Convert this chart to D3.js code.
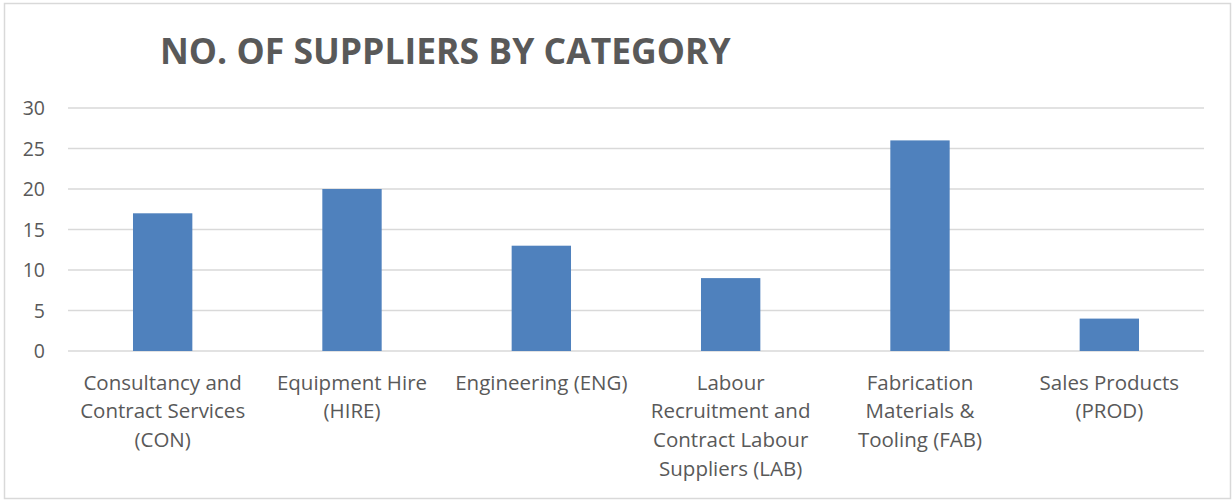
<!DOCTYPE html>
<html><head><meta charset="utf-8">
<script src="https://cdn.jsdelivr.net/npm/d3@7"></script>
<style>html,body{margin:0;padding:0;background:#fff;}svg{display:block;}</style>
</head><body>
<div id="chart"></div>
<script>
const title = "NO. OF SUPPLIERS BY CATEGORY";
const categories = [
  ["Consultancy and","Contract Services","(CON)"],
  ["Equipment Hire","(HIRE)"],
  ["Engineering (ENG)"],
  ["Labour","Recruitment and","Contract Labour","Suppliers (LAB)"],
  ["Fabrication","Materials &","Tooling (FAB)"],
  ["Sales Products","(PROD)"]
];
const values = [17, 20, 13, 9, 26, 4];
const yTicks = [0, 5, 10, 15, 20, 25, 30];

const W = 1232, H = 501;
const font = "'Open Sans', 'Liberation Sans', sans-serif";
const textColor = "#595959";
const svg = d3.select("#chart").append("svg").attr("width", W).attr("height", H);

svg.append("rect").attr("x", 4.5).attr("y", 3.5).attr("width", W - 6).attr("height", H - 6)
  .attr("fill", "#fff").attr("stroke", "#d9d9d9").attr("stroke-width", 1.5);

const pLeft = 68, pRight = 1204, pTop = 108, pBottom = 351;
const x = d3.scaleBand().domain(d3.range(categories.length)).range([pLeft, pRight]).padding(0);
const y = d3.scaleLinear().domain([0, 30]).range([pBottom, pTop]);

svg.append("g").selectAll("line").data(yTicks).join("line")
  .attr("x1", pLeft).attr("x2", pRight)
  .attr("y1", d => y(d)).attr("y2", d => y(d))
  .attr("stroke", "#d9d9d9").attr("stroke-width", 1.5);

const yAxis = d3.axisLeft(y).tickValues(yTicks).tickSize(0).tickPadding(0);
const yg = svg.append("g").attr("transform", `translate(45,0)`).call(yAxis);
yg.select(".domain").remove();
yg.selectAll("text").attr("font-family", font).attr("font-size", 19.5).attr("fill", textColor).attr("dy", "0.35em");

const barW = x.bandwidth() / 3.19;
svg.append("g").selectAll("rect").data(values).join("rect")
  .attr("x", (d, i) => x(i) + x.bandwidth() / 2 - barW / 2)
  .attr("width", barW)
  .attr("y", d => y(d))
  .attr("height", d => y(0) - y(d))
  .attr("fill", "#4f81bd");

const cg = svg.append("g");
categories.forEach((lines, i) => {
  const cx = x(i) + x.bandwidth() / 2;
  const t = cg.append("text")
    .attr("x", cx).attr("y", 389.5)
    .attr("text-anchor", "middle")
    .attr("font-family", font).attr("font-size", 20.5).attr("fill", textColor);
  lines.forEach((l, j) => {
    t.append("tspan").attr("x", cx).attr("dy", j === 0 ? 0 : 28.7).text(l);
  });
});

svg.append("text").attr("x", 160).attr("y", 63.5)
  .attr("font-family", font).attr("font-weight", "bold").attr("font-size", 35.5)
  .attr("fill", textColor).text(title);
</script>
</body></html>
